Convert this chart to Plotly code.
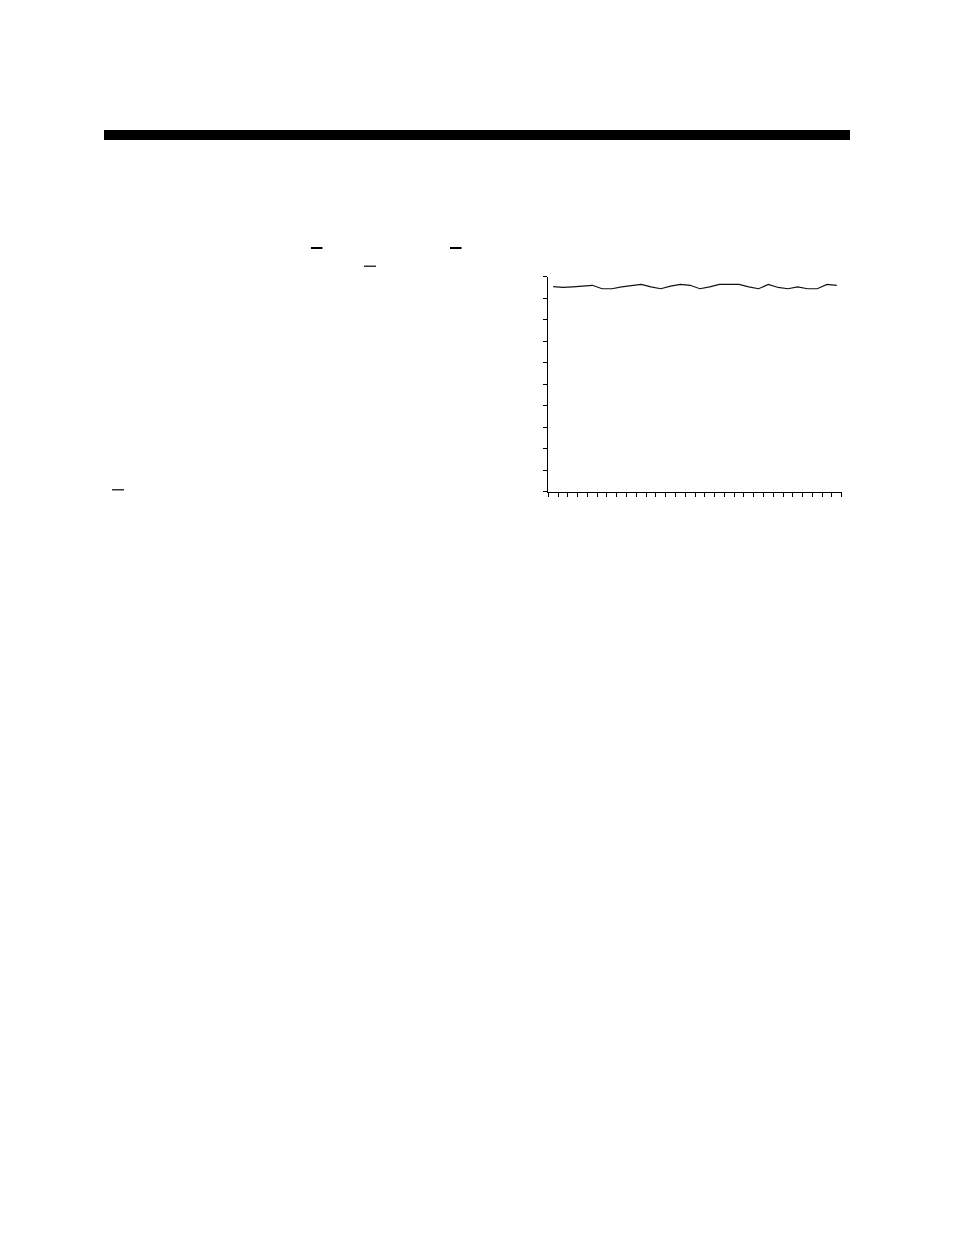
#!/usr/bin/env python3
# -*- coding: utf-8 -*-

import plotly.graph_objects as go

###############################################################################
# Data: 30 periods, one series, values on a 0-100 scale
periods = [str(i) for i in range(1, 31)]
values = [
    95.4, 95.0, 95.3, 95.6, 96.0, 94.4, 94.4, 95.3, 96.0, 96.4,
    95.3, 94.4, 95.6, 96.4, 96.0, 94.4, 95.3, 96.4, 96.4, 96.4,
    95.3, 94.4, 96.4, 95.0, 94.4, 95.3, 94.4, 94.4, 96.4, 96.0,
]
y_range = [0, 100]
y_step = 10

W, H = 954, 1235
OFFSET = 8  # the page body adds an 8px margin around the figure


def px(x):
    return (x - OFFSET) / W


def py(y):
    return 1 - (y - OFFSET) / H


fig = go.Figure(
    go.Scatter(
        x=periods,
        y=values,
        mode="lines",
        line=dict(color="#111111", width=1.2),
        hoverinfo="skip",
        showlegend=False,
    )
)

fig.update_layout(
    width=W,
    height=H,
    margin=dict(l=0, r=0, t=0, b=0),
    paper_bgcolor="white",
    plot_bgcolor="white",
    xaxis=dict(
        domain=[px(548.3), px(841.7)],
        type="category",
        range=[-0.5, len(periods) - 0.5],
        dtick=1,
        tickson="boundaries",
        ticks="outside",
        ticklen=4,
        tickwidth=1,
        tickcolor="black",
        showticklabels=False,
        showline=True,
        linecolor="black",
        linewidth=1,
        showgrid=False,
        zeroline=False,
        fixedrange=True,
    ),
    yaxis=dict(
        domain=[py(491.7), py(276.7)],
        range=y_range,
        dtick=y_step,
        ticks="outside",
        ticklen=4,
        tickwidth=1,
        tickcolor="black",
        showticklabels=False,
        showline=True,
        linecolor="black",
        linewidth=1,
        showgrid=False,
        zeroline=False,
        fixedrange=True,
    ),
)

# Page decorations: heavy rule across the top and the small dashes
fig.add_shape(
    type="rect", xref="paper", yref="paper",
    x0=px(104), x1=px(850), y0=py(140), y1=py(130),
    fillcolor="black", line=dict(width=0),
)
for x0, x1, y, w in [
    (311, 322.5, 248, 2),
    (450, 461.5, 248, 2),
    (364, 376, 266.2, 1.2),
    (112, 124, 489.8, 1.2),
]:
    fig.add_shape(
        type="line", xref="paper", yref="paper",
        x0=px(x0), x1=px(x1), y0=py(y), y1=py(y),
        line=dict(color="black", width=w),
    )

fig.write_html("out.html", config=dict(displayModeBar=False))
